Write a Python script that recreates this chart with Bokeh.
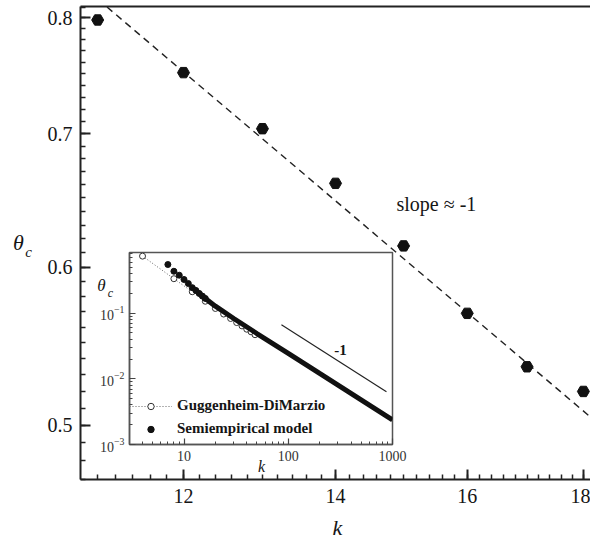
import numpy as np
from bokeh.plotting import figure
from bokeh.models import (FixedTicker, PrintfTickFormatter, LogTickFormatter, Label,
                          LinearAxis, Legend, LegendItem)
from bokeh.embed import file_html
from bokeh.resources import INLINE

# ---------------- data ----------------
# main panel: critical volume fraction vs k
main_k = [11, 12, 13, 14, 15, 16, 17, 18]
main_theta = [0.798, 0.751, 0.704, 0.661, 0.615, 0.569, 0.535, 0.520]
# dashed guide line (slope ~ -1 on log-log)
dash_k = [10.8, 18.2]
dash_theta = [0.832, 0.503]
main_xticks = [12, 14, 16, 18]
main_yticks = [0.5, 0.6, 0.7, 0.8]

# inset: Guggenheim-DiMarzio (open circles)
gd_k = [4, 8, 12, 16, 20, 24, 28, 32, 36, 40, 44, 48]
gd_theta = [0.74, 0.335, 0.212, 0.152, 0.118, 0.097, 0.083, 0.072, 0.064, 0.057, 0.052, 0.047]
# inset: semiempirical model (filled markers, dense -> thick line)
se_k = [7, 8, 9, 10, 11, 12, 13, 14, 15, 16]
se_theta = [0.551, 0.435, 0.379, 0.326, 0.283, 0.245, 0.222, 0.200, 0.182, 0.168]
se_line_k = [12, 13, 14, 16, 20, 30, 50, 100, 200, 500, 1000]
se_line_theta = [0.245, 0.222, 0.200, 0.168, 0.128, 0.083, 0.049, 0.0245, 0.0121, 0.0048, 0.00238]
# inset reference line of slope -1
ref_k = [86, 875]
ref_theta = [0.0665, 0.00635]
inset_xticks = [10, 100, 1000]
inset_yticks = [0.001, 0.01, 0.1]

SERIF = "Liberation Serif"
INK = "#151515"

# ---------------- main figure ----------------
p = figure(width=590, height=540, x_axis_type="log", y_axis_type="log",
           x_range=(10.81, 18.13), y_range=(0.4698, 0.8105),
           output_backend="svg", toolbar_location=None,
           min_border_left=80, min_border_right=0, min_border_top=6, min_border_bottom=61)
p.outline_line_color = None
p.grid.visible = False
p.background_fill_color = "white"
p.border_fill_color = "white"

xax = p.below[0]
yax = p.left[0]

# top frame line
top_ax = LinearAxis(ticker=FixedTicker(ticks=[]), axis_line_width=2, axis_line_color="#222",
                    major_label_standoff=0, major_tick_out=0, major_tick_in=0,
                    minor_tick_out=0, minor_tick_in=0, major_label_text_font_size="0px")
p.add_layout(top_ax, "above")

x_minor = [round(v, 1) for v in np.arange(10.8, 18.21, 0.2)]
y_minor = [round(v, 2) for v in np.arange(0.47, 0.811, 0.01)]
xax.ticker = FixedTicker(ticks=main_xticks, minor_ticks=x_minor)
yax.ticker = FixedTicker(ticks=main_yticks, minor_ticks=y_minor)
xax.formatter = PrintfTickFormatter(format="%d")
yax.formatter = PrintfTickFormatter(format="%.1f")
for ax in (xax, yax):
    ax.axis_line_width = 2
    ax.axis_line_color = "#222"
    ax.major_tick_in = 10
    ax.major_tick_out = 0
    ax.minor_tick_in = 5
    ax.minor_tick_out = 0
    ax.major_tick_line_width = 2
    ax.minor_tick_line_width = 1.5
    ax.major_tick_line_color = "#222"
    ax.minor_tick_line_color = "#222"
    ax.major_label_text_font = SERIF
    ax.major_label_text_font_size = "20px"
    ax.major_label_text_color = INK
xax.major_label_standoff = 9
yax.major_label_standoff = 8

p.line(dash_k, dash_theta, line_color="#222", line_width=1.4, line_dash="7 5")
p.scatter(main_k, main_theta, marker="hex", size=12, fill_color="#111",
          line_color="#111")

# ---------------- inset figure ----------------
ins = figure(width=320, height=224, x_axis_type="log", y_axis_type="log",
             x_range=(3, 1000), y_range=(0.001, 0.84),
             output_backend="svg", toolbar_location=None,
             min_border_left=41, min_border_right=16, min_border_top=2, min_border_bottom=30,
             styles={"position": "absolute", "left": "88px", "top": "250px"})
ins.border_fill_color = None
ins.background_fill_color = "white"
ins.outline_line_color = "#555"
ins.outline_line_width = 1.5
ins.grid.visible = False

ixax = ins.below[0]
iyax = ins.left[0]
ix_minor = [m * d for d in (1, 10, 100) for m in range(2, 10) if m * d >= 3]
iy_minor = [m * d for d in (0.001, 0.01, 0.1) for m in range(2, 10) if m * d <= 0.84]
ixax.ticker = FixedTicker(ticks=inset_xticks, minor_ticks=ix_minor)
iyax.ticker = FixedTicker(ticks=inset_yticks, minor_ticks=iy_minor)
ixax.formatter = PrintfTickFormatter(format="%d")
iyax.formatter = LogTickFormatter()
for ax in (ixax, iyax):
    ax.axis_line_width = 1.5
    ax.axis_line_color = "#555"
    ax.major_tick_in = 6
    ax.major_tick_out = 0
    ax.minor_tick_in = 3
    ax.minor_tick_out = 0
    ax.major_tick_line_color = "#444"
    ax.minor_tick_line_color = "#444"
    ax.major_tick_line_width = 1.2
    ax.minor_tick_line_width = 1
    ax.major_label_text_font = SERIF
    ax.major_label_text_font_size = "14px"
    ax.major_label_text_color = "#333"
ixax.major_label_standoff = 6
iyax.major_label_standoff = 5

gd_line = ins.line(gd_k, gd_theta, line_color="#666", line_width=1, line_dash="1 2")
gd_pts = ins.scatter(gd_k, gd_theta, marker="circle", size=6, fill_color="white",
                     line_color="#333", line_width=1)
se_pts = ins.scatter(se_k, se_theta, marker="circle", size=6, fill_color="#111",
                     line_color="#111")
ins.line(se_line_k, se_line_theta, line_color="#111", line_width=5)
ins.line(ref_k, ref_theta, line_color="#222", line_width=1.2)
se_dummy = ins.line(x=[], y=[], line_color="#666", line_width=1, line_dash="1 2")

leg = Legend(items=[LegendItem(label="Guggenheim-DiMarzio", renderers=[gd_line, gd_pts]),
                    LegendItem(label="Semiempirical model", renderers=[se_dummy, se_pts])],
             location=(0, 7), margin=0, padding=0, spacing=6, glyph_width=43,
             glyph_height=16, label_height=16, label_standoff=5,
             label_text_font=SERIF, label_text_font_style="bold",
             label_text_font_size="15px", label_text_color=INK,
             border_line_color=None, background_fill_alpha=0)
ins.add_layout(leg)

# ---------------- text overlay (page-pixel coordinates) ----------------
ov = figure(width=590, height=540, x_range=(0, 590), y_range=(540, 0),
            output_backend="svg", toolbar_location=None,
            x_axis_location=None, y_axis_location=None,
            min_border=0, min_border_left=0, min_border_right=0,
            min_border_top=0, min_border_bottom=0,
            styles={"position": "absolute", "left": "0px", "top": "0px",
                    "pointer-events": "none"})
ov.outline_line_color = None
ov.background_fill_color = None
ov.border_fill_color = None
ov.grid.visible = False

def lab(x, y, text, size, style="normal", align="center"):
    ov.add_layout(Label(x=x, y=y, text=text, text_font=SERIF, text_font_style=style,
                        text_font_size=size, text_color=INK, text_align=align,
                        text_baseline="middle"))

lab(396, 203, "slope ≈ -1", "20px", align="left")
lab(337, 527, "k", "22px", "italic")
lab(18, 242, "θ", "22px", "italic")
lab(28, 251, "c", "15px", "italic")
lab(340, 349, "-1", "15px", "bold")
lab(261, 466, "k", "16px", "italic")
lab(101, 285, "θ", "17px", "italic")
lab(110, 292, "c", "12px", "italic")

open("out.html", "w").write(file_html([p, ins, ov], INLINE))
